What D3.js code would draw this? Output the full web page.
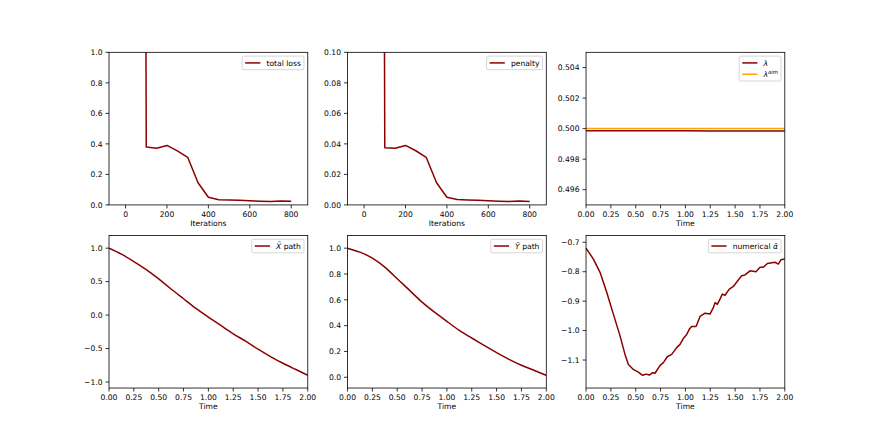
<!DOCTYPE html>
<html><head><meta charset="utf-8">
<script src="https://cdn.jsdelivr.net/npm/d3@7/dist/d3.min.js"></script>
<style>
html,body{margin:0;padding:0;background:#fff;}
svg{display:block;font-family:"DejaVu Sans",sans-serif;}
</style></head>
<body>
<script>
// ---------- data ----------
const iterations = [0,50,100,150,200,250,300,350,400,450,500,550,600,650,700,750,800];
const totalLoss  = [35,22,0.380,0.371,0.390,0.354,0.312,0.145,0.050,0.034,0.032,0.030,0.027,0.024,0.022,0.026,0.024];
const penalty    = [3.5,2.2,0.0375,0.0372,0.0390,0.0355,0.0312,0.0145,0.0050,0.0035,0.0032,0.0030,0.0027,0.0024,0.0022,0.0026,0.0023];

const lambdaTime = [0,0.25,0.5,0.75,1.0,1.25,1.5,1.75,2.0];
const lambdaVals = [0.49986,0.49986,0.49986,0.49986,0.49986,0.49985,0.49984,0.49984,0.49984];
const lambdaAim  = [0.5,0.5,0.5,0.5,0.5,0.5,0.5,0.5,0.5];

const pathTime = [0,0.125,0.25,0.375,0.5,0.625,0.75,0.875,1.0,1.125,1.25,1.375,1.5,1.625,1.75,1.875,2.0];
const xPath = [1.0,0.91,0.80,0.68,0.54,0.39,0.244,0.10,-0.03,-0.155,-0.28,-0.39,-0.51,-0.62,-0.72,-0.81,-0.90];
const yPath = [1.0,0.969,0.923,0.853,0.763,0.673,0.582,0.505,0.433,0.363,0.304,0.247,0.191,0.139,0.093,0.054,0.015];

const alphaTime = [0,0.074,0.141,0.208,0.275,0.342,0.392,0.426,0.476,0.526,0.570,0.604,0.637,0.671,0.694,0.745,0.778,0.818,0.862,0.912,0.946,0.979,1.013,1.04,1.063,1.107,1.147,1.197,1.247,1.281,1.298,1.321,1.348,1.371,1.398,1.442,1.482,1.532,1.566,1.600,1.650,1.710,1.751,1.784,1.825,1.901,1.935,1.962,2.0];
const alphaVals = [-0.72,-0.757,-0.802,-0.87,-0.944,-1.018,-1.081,-1.115,-1.132,-1.141,-1.152,-1.148,-1.151,-1.143,-1.145,-1.118,-1.109,-1.089,-1.081,-1.058,-1.047,-1.027,-1.013,-0.995,-0.986,-0.986,-0.952,-0.941,-0.944,-0.922,-0.905,-0.911,-0.893,-0.876,-0.88,-0.859,-0.85,-0.828,-0.814,-0.811,-0.797,-0.80,-0.785,-0.785,-0.772,-0.768,-0.774,-0.759,-0.757];

const iterTicks = [0,200,400,600,800];
const timeTicks = [0,0.25,0.5,0.75,1.0,1.25,1.5,1.75,2.0];
const lossTicks = [0,0.2,0.4,0.6,0.8,1.0];
const penTicks  = [0,0.02,0.04,0.06,0.08,0.10];
const lamTicks  = [0.496,0.498,0.500,0.502,0.504];
const xPathTicks = [-1.0,-0.5,0.0,0.5,1.0];
const yPathTicks = [0,0.2,0.4,0.6,0.8,1.0];
const alphaTicks = [-1.1,-1.0,-0.9,-0.8,-0.7];

// ---------- layout ----------
const W = 872, H = 436;
const FS = 7.6;
const figLeft = 0.125*W, figRight = 0.9*W, figTop = (1-0.88)*H, figBottom = (1-0.11)*H;
const pw = (figRight-figLeft)/(3+2*0.2), ph = (figBottom-figTop)/(2+0.2);
const DARKRED = "#8b0000", ORANGE = "#ffa500";

const svg = d3.select("body").append("svg").attr("width",W).attr("height",H);
const minus = s => s.replace(/-/g,"\u2212");

function padExtent(arr, m){ const e = d3.extent(arr); const d = e[1]-e[0]; return [e[0]-m*d, e[1]+m*d]; }

function panel(cfg, idx){
  const col = idx%3, row = Math.floor(idx/3);
  const x0 = figLeft + col*pw*1.2, y0 = figTop + row*ph*1.2;
  const g = svg.append("g").attr("transform",`translate(${x0},${y0})`);
  const x = d3.scaleLinear().domain(cfg.xdom).range([0,pw]);
  const y = d3.scaleLinear().domain(cfg.ydom).range([ph,0]);
  const cid = "clip"+idx;
  g.append("clipPath").attr("id",cid).append("rect").attr("width",pw).attr("height",ph);
  const pg = g.append("g").attr("clip-path",`url(#${cid})`);
  cfg.series.forEach(s=>{
    const line = d3.line().x((d,i)=>x(s.x[i])).y(d=>y(d)).curve(s.curve||d3.curveLinear);
    pg.append("path").datum(s.y).attr("d",line).attr("fill","none")
      .attr("stroke",s.color).attr("stroke-width",1.5).attr("stroke-linejoin","round");
  });
  g.append("rect").attr("width",pw).attr("height",ph).attr("fill","none").attr("stroke","#000").attr("stroke-width",0.8);
  const xa = g.append("g");
  cfg.xticks.forEach(t=>{
    const px = x(t);
    xa.append("line").attr("x1",px).attr("x2",px).attr("y1",ph).attr("y2",ph+3.5).attr("stroke","#000").attr("stroke-width",0.8);
    xa.append("text").attr("x",px).attr("y",ph+11.8).attr("text-anchor","middle").attr("font-size",FS).attr("fill","#000").text(minus(cfg.xfmt(t)));
  });
  const ya = g.append("g");
  cfg.yticks.forEach(t=>{
    const py = y(t);
    ya.append("line").attr("x1",0).attr("x2",-3.5).attr("y1",py).attr("y2",py).attr("stroke","#000").attr("stroke-width",0.8);
    ya.append("text").attr("x",-6.5).attr("y",py).attr("dy","0.36em").attr("text-anchor","end").attr("font-size",FS).attr("fill","#000").text(minus(cfg.yfmt(t)));
  });
  g.append("text").attr("x",pw/2).attr("y",ph+21.4).attr("text-anchor","middle").attr("font-size",FS).attr("fill","#000").text(cfg.xlabel);
  const bp = 0.4*FS, hl = 2*FS, htp = 0.8*FS, ls = 0.5*FS, rowH = 7.5, bap = 0.5*FS;
  const lg = g.append("g");
  const box = lg.append("rect");
  let maxW = 0;
  const texts = cfg.legend.map((L,i)=>{
    const cy = bp + rowH/2 + i*(rowH+ls);
    const t = lg.append("text").attr("y",cy).attr("dy","0.36em").attr("font-size",FS).attr("fill","#000");
    L.parts.forEach(p=>{
      const ts = t.append("tspan").text(p.t);
      if(p.it) ts.attr("font-style","italic");
      if(p.sup) ts.attr("font-size",FS*0.7).attr("dy",-3);
    });
    maxW = Math.max(maxW, t.node().getComputedTextLength());
    return {t, cy, color:L.color};
  });
  const bw = bp + hl + htp + maxW + bp;
  const bh = 2*bp + cfg.legend.length*rowH + (cfg.legend.length-1)*ls;
  const bx = pw - bap - bw, by = bap;
  lg.attr("transform",`translate(${bx},${by})`);
  box.attr("width",bw).attr("height",bh).attr("rx",1.6).attr("fill","#fff").attr("fill-opacity",0.8)
     .attr("stroke","#cccccc").attr("stroke-width",0.8);
  texts.forEach(o=>{
    lg.append("line").attr("x1",bp).attr("x2",bp+hl).attr("y1",o.cy).attr("y2",o.cy).attr("stroke",o.color).attr("stroke-width",1.5);
    o.t.attr("x",bp+hl+htp);
  });
}

const f1 = d3.format(".1f"), f2 = d3.format(".2f"), f3 = d3.format(".3f"), f0 = d3.format("d");
const panels = [
  {xdom:padExtent(iterations,0.1), ydom:[0,1], xticks:iterTicks, yticks:lossTicks, xfmt:f0, yfmt:f1, xlabel:"Iterations",
   series:[{x:iterations,y:totalLoss,color:DARKRED}], legend:[{color:DARKRED,parts:[{t:"total loss"}]}]},
  {xdom:padExtent(iterations,0.1), ydom:[0,0.1], xticks:iterTicks, yticks:penTicks, xfmt:f0, yfmt:f2, xlabel:"Iterations",
   series:[{x:iterations,y:penalty,color:DARKRED}], legend:[{color:DARKRED,parts:[{t:"penalty"}]}]},
  {xdom:[0,2], ydom:[0.495,0.505], xticks:timeTicks, yticks:lamTicks, xfmt:f2, yfmt:f3, xlabel:"Time",
   series:[{x:lambdaTime,y:lambdaVals,color:DARKRED},{x:lambdaTime,y:lambdaAim,color:ORANGE}],
   legend:[{color:DARKRED,parts:[{t:"λ",it:true}]},{color:ORANGE,parts:[{t:"λ",it:true},{t:"aim",it:true,sup:true}]}]},
  {xdom:[0,2], ydom:padExtent(xPath,0.1), xticks:timeTicks, yticks:xPathTicks, xfmt:f2, yfmt:f1, xlabel:"Time",
   series:[{x:pathTime,y:xPath,color:DARKRED,curve:d3.curveNatural}], legend:[{color:DARKRED,parts:[{t:"X\u0303",it:true},{t:" path"}]}]},
  {xdom:[0,2], ydom:padExtent(yPath,0.1), xticks:timeTicks, yticks:yPathTicks, xfmt:f2, yfmt:f1, xlabel:"Time",
   series:[{x:pathTime,y:yPath,color:DARKRED,curve:d3.curveNatural}], legend:[{color:DARKRED,parts:[{t:"Y\u0303",it:true},{t:" path"}]}]},
  {xdom:[0,2], ydom:padExtent(alphaVals,0.1), xticks:timeTicks, yticks:alphaTicks, xfmt:f2, yfmt:f1, xlabel:"Time",
   series:[{x:alphaTime,y:alphaVals,color:DARKRED}], legend:[{color:DARKRED,parts:[{t:"numerical "},{t:"α\u0302",it:true}]}]}
];
panels.forEach(panel);
</script>
</body></html>
